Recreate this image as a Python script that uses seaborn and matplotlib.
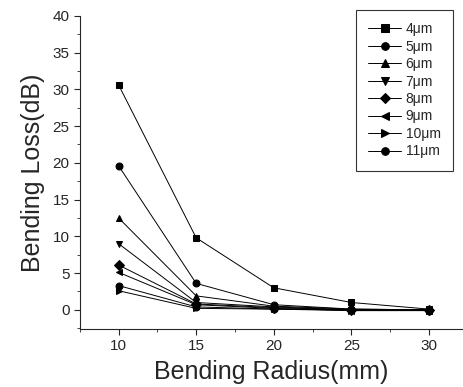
import numpy as np
import pandas as pd
import matplotlib
matplotlib.use("Agg")
import matplotlib.pyplot as plt
import seaborn as sns
from matplotlib.ticker import MultipleLocator

# bending radius (mm)
radius = [10, 15, 20, 25, 30]

# core widths and their markers
widths = ["4", "5", "6", "7", "8", "9", "10", "11"]
markers = ["s", "o", "^", "v", "D", "<", ">", "o"]

# bending loss (dB) per width
loss_4 = [30.6, 9.8, 3.0, 1.0, 0.1]
loss_5 = [19.6, 3.6, 0.7, 0.1, 0.0]
loss_6 = [12.5, 1.9, 0.5, 0.1, 0.0]
loss_7 = [9.0, 1.0, 0.4, 0.0, 0.0]
loss_8 = [6.1, 0.8, 0.3, 0.0, 0.0]
loss_9 = [5.1, 0.7, 0.2, -0.1, -0.1]
loss_10 = [2.6, 0.2, 0.1, -0.1, -0.1]
loss_11 = [3.3, 0.4, 0.1, 0.0, -0.1]
losses = [loss_4, loss_5, loss_6, loss_7, loss_8, loss_9, loss_10, loss_11]

rows = []
for w, vals in zip(widths, losses):
    for r, v in zip(radius, vals):
        rows.append({"radius": r, "loss": v, "width": w + "\u03bcm"})
df = pd.DataFrame(rows)

sns.set_style("ticks")
plt.rcParams["font.family"] = ["Liberation Sans", "DejaVu Sans"]

fig = plt.figure(figsize=(4.64, 3.87), dpi=100)
ax = fig.add_axes([0.172, 0.150, 0.826, 0.809])

for w, m in zip(widths, markers):
    sub = df[df["width"] == w + "\u03bcm"]
    sns.lineplot(data=sub, x="radius", y="loss", ax=ax, color="black",
                 marker=m, markersize=5, linewidth=0.7, label=w + "\u03bcm",
                 markeredgecolor="black")

ax.set_xlim(7.5, 32.2)
ax.set_ylim(-2.6, 40)
ax.set_xticks(radius)
ax.xaxis.set_minor_locator(MultipleLocator(2.5))
ax.yaxis.set_major_locator(MultipleLocator(5))
ax.yaxis.set_minor_locator(MultipleLocator(2.5))
ax.tick_params(which="major", length=4, width=0.8, labelsize=11, direction="out")
ax.tick_params(which="minor", length=2, width=0.6, direction="out")
sns.despine(ax=ax)

ax.set_xlabel("Bending Radius(mm)", fontsize=18, labelpad=5)
ax.set_ylabel("Bending Loss(dB)", fontsize=18, labelpad=5)

leg = ax.legend(loc="upper right", bbox_to_anchor=(0.974, 1.02), fontsize=10,
                frameon=True, fancybox=False, edgecolor="black",
                handlelength=2.4, labelspacing=0.25, borderpad=0.9,
                handletextpad=0.3, borderaxespad=0, markerscale=1.1)
leg.get_frame().set_linewidth(0.8)

fig.savefig("out.png", dpi=100)
